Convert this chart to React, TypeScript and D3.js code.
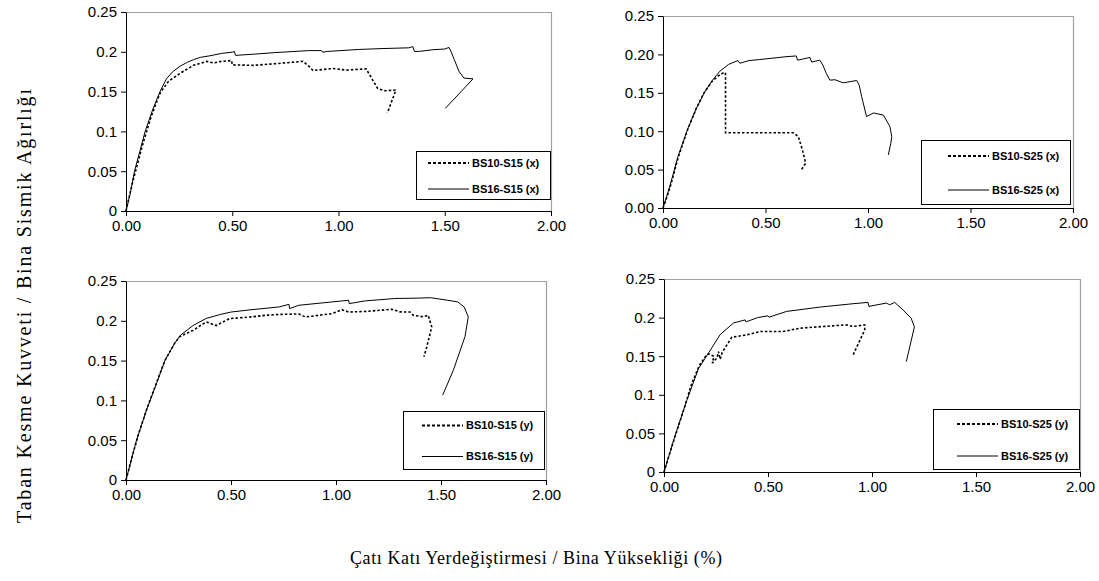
import { useEffect, useRef } from 'react';
import * as d3 from 'd3';

type Pt = [number, number];

const W = 1099;
const H = 581;

const xTicks = [0, 0.5, 1, 1.5, 2];
const yTicks = [0, 0.05, 0.1, 0.15, 0.2, 0.25];

const xTitle = 'Çatı Katı Yerdeğiştirmesi / Bina Yüksekliği (%)';
const yTitle = 'Taban Kesme Kuvveti / Bina Sismik Ağırlığı';

// top-left: S15, x direction
const bs10S15x: Pt[] = [
  [0, 0], [0.01, 0.012], [0.03, 0.035], [0.05, 0.055], [0.08, 0.085], [0.12, 0.12], [0.16, 0.148],
  [0.2, 0.163], [0.255, 0.173], [0.317, 0.183], [0.38, 0.188], [0.41, 0.186], [0.45, 0.188],
  [0.497, 0.189], [0.5, 0.1836], [0.6, 0.183], [0.7, 0.185], [0.833, 0.188], [0.86, 0.182],
  [0.88, 0.1765], [0.973, 0.179], [1.036, 0.177], [1.13, 0.1786], [1.16, 0.165], [1.184, 0.154],
  [1.22, 0.151], [1.27, 0.152], [1.23, 0.123],
];
const bs16S15x: Pt[] = [
  [0, 0], [0.02, 0.022], [0.04, 0.05], [0.065, 0.075], [0.09, 0.1], [0.125, 0.127], [0.16, 0.15],
  [0.19, 0.166], [0.22, 0.175], [0.255, 0.182], [0.29, 0.187], [0.317, 0.19], [0.35, 0.193],
  [0.395, 0.195], [0.45, 0.198], [0.5, 0.1995], [0.51, 0.2005], [0.515, 0.1955], [0.6, 0.197],
  [0.7, 0.199], [0.86, 0.2015], [0.92, 0.2015], [0.925, 0.1995], [0.95, 0.2005], [1.1, 0.203],
  [1.2, 0.204], [1.33, 0.205], [1.35, 0.2065], [1.357, 0.2005], [1.38, 0.2005], [1.44, 0.2025],
  [1.5, 0.2035], [1.52, 0.2055], [1.53, 0.2], [1.545, 0.19], [1.568, 0.175], [1.59, 0.167],
  [1.633, 0.166], [1.503, 0.129],
];

// top-right: S25, x direction
const bs10S25x: Pt[] = [
  [0, 0], [0.02, 0.015], [0.04, 0.032], [0.073, 0.065], [0.12, 0.102], [0.163, 0.13], [0.2, 0.15],
  [0.24, 0.165], [0.27, 0.172], [0.3, 0.177], [0.305, 0.175], [0.305, 0.098], [0.5, 0.098],
  [0.635, 0.098], [0.66, 0.093], [0.68, 0.0757], [0.692, 0.0627], [0.695, 0.058], [0.676, 0.05],
];
const bs16S25x: Pt[] = [
  [0, 0], [0.033, 0.028], [0.073, 0.067], [0.122, 0.104], [0.163, 0.13], [0.2036, 0.151],
  [0.24, 0.166], [0.277, 0.178], [0.32, 0.187], [0.366, 0.192], [0.375, 0.1885], [0.42, 0.192],
  [0.472, 0.1933], [0.6, 0.197], [0.65, 0.198], [0.656, 0.1925], [0.717, 0.196], [0.725, 0.19],
  [0.765, 0.1925], [0.78, 0.186], [0.797, 0.175], [0.814, 0.1665], [0.839, 0.167], [0.879, 0.163],
  [0.945, 0.166], [0.957, 0.16], [0.969, 0.145], [0.993, 0.119], [1.026, 0.1237], [1.075, 0.121],
  [1.107, 0.106], [1.116, 0.093], [1.111, 0.084], [1.099, 0.069],
];

// bottom-left: S15, y direction
const bs10S15y: Pt[] = [
  [0, 0], [0.03, 0.03], [0.06, 0.058], [0.1, 0.09], [0.145, 0.122], [0.185, 0.15], [0.232, 0.172],
  [0.2555, 0.18], [0.319, 0.188], [0.382, 0.1986], [0.429, 0.194], [0.492, 0.2027], [0.6, 0.205],
  [0.666, 0.207], [0.729, 0.208], [0.823, 0.2086], [0.855, 0.2048], [0.92, 0.207], [0.981, 0.209],
  [1.028, 0.214], [1.06, 0.211], [1.155, 0.212], [1.265, 0.2145], [1.305, 0.2112], [1.352, 0.211],
  [1.368, 0.207], [1.415, 0.205], [1.439, 0.2069], [1.456, 0.1924], [1.432, 0.167], [1.419, 0.155],
];
const bs16S15y: Pt[] = [
  [0, 0], [0.05, 0.05], [0.098, 0.088], [0.145, 0.121], [0.185, 0.15], [0.232, 0.172], [0.26, 0.182],
  [0.319, 0.194], [0.382, 0.203], [0.45, 0.208], [0.5, 0.211], [0.6, 0.214], [0.729, 0.2174],
  [0.776, 0.2207], [0.779, 0.2153], [0.823, 0.2195], [0.981, 0.2237], [1.06, 0.2258],
  [1.063, 0.2216], [1.139, 0.225], [1.28, 0.228], [1.39, 0.2285], [1.45, 0.229], [1.532, 0.2258],
  [1.58, 0.2237], [1.61, 0.2174], [1.63, 0.205], [1.614, 0.18], [1.559, 0.138], [1.508, 0.1066],
];

// bottom-right: S25, y direction
const bs10S25y: Pt[] = [
  [0, 0], [0.04, 0.035], [0.07, 0.06], [0.1, 0.085], [0.134, 0.115], [0.17, 0.138], [0.2, 0.15],
  [0.215, 0.153], [0.24, 0.15], [0.232, 0.141], [0.255, 0.148], [0.262, 0.156], [0.27, 0.146],
  [0.28, 0.155], [0.326, 0.1746], [0.398, 0.1776], [0.462, 0.182], [0.573, 0.182], [0.653, 0.1863],
  [0.877, 0.1906], [0.909, 0.1885], [0.965, 0.1906], [0.965, 0.184], [0.909, 0.1516],
];
const bs16S25y: Pt[] = [
  [0, 0], [0.054, 0.0477], [0.11, 0.093], [0.166, 0.134], [0.214, 0.154], [0.27, 0.178],
  [0.334, 0.193], [0.39, 0.197], [0.395, 0.1945], [0.45, 0.2], [0.5, 0.2023], [0.505, 0.2005],
  [0.589, 0.208], [0.749, 0.2136], [0.909, 0.218], [0.981, 0.2197], [0.985, 0.2145],
  [1.069, 0.2188], [1.085, 0.2166], [1.109, 0.2197], [1.149, 0.21], [1.188, 0.1993],
  [1.204, 0.188], [1.165, 0.143],
];

const panels = [
  {
    plot: { l: 126, r: 551, t: 12, b: 211 }, fixed: false,
    legend: { l: 416, r: 550, t: 151, b: 199 },
    series: [bs10S15x, bs16S15x], names: ['BS10-S15 (x)', 'BS16-S15 (x)'],
  },
  {
    plot: { l: 663, r: 1073, t: 16, b: 208 }, fixed: true,
    legend: { l: 921, r: 1070, t: 140, b: 204 },
    series: [bs10S25x, bs16S25x], names: ['BS10-S25 (x)', 'BS16-S25 (x)'],
  },
  {
    plot: { l: 126, r: 546, t: 281, b: 480 }, fixed: false,
    legend: { l: 403, r: 544, t: 411, b: 469 },
    series: [bs10S15y, bs16S15y], names: ['BS10-S15 (y)', 'BS16-S15 (y)'],
  },
  {
    plot: { l: 664, r: 1080, t: 279, b: 472 }, fixed: false,
    legend: { l: 933, r: 1079, t: 409, b: 469 },
    series: [bs10S25y, bs16S25y], names: ['BS10-S25 (y)', 'BS16-S25 (y)'],
  },
];

const sans = '"Liberation Sans", Arial, sans-serif';
const serif = '"Liberation Serif", "Times New Roman", serif';

const App = () => {
  const svgRef = useRef<SVGSVGElement>(null);

  useEffect(() => {
    const svg = d3.select(svgRef.current);
    svg.selectAll('*').remove();
    svg.append('rect').attr('width', W).attr('height', H).attr('fill', '#fff');

    panels.forEach(p => {
      const x = d3.scaleLinear().domain([0, 2]).range([p.plot.l, p.plot.r]);
      const y = d3.scaleLinear().domain([0, 0.25]).range([p.plot.b, p.plot.t]);
      const g = svg.append('g');

      // gray frame on top and right
      g.append('path')
        .attr('d', `M${p.plot.l},${p.plot.t + 0.5}H${p.plot.r + 0.5}V${p.plot.b}`)
        .attr('fill', 'none')
        .attr('stroke', '#a0a0a0')
        .attr('stroke-width', 1.2);

      const yFmt = p.fixed ? d3.format('.2f') : (d: number) => String(+d.toFixed(2));

      const ya = g.append('g')
        .attr('transform', `translate(${p.plot.l},0)`)
        .call(d3.axisLeft(y).tickValues(yTicks).tickSize(5).tickSizeOuter(0).tickPadding(4).tickFormat(yFmt as any));
      const xa = g.append('g')
        .attr('transform', `translate(0,${p.plot.b})`)
        .call(d3.axisBottom(x).tickValues(xTicks).tickSize(5).tickSizeOuter(0).tickPadding(4).tickFormat(d3.format('.2f') as any));
      [ya, xa].forEach(a => {
        a.selectAll('text').style('font-family', sans).style('font-size', '15px').attr('fill', '#000');
        a.selectAll('line,path').attr('stroke', '#000');
      });

      const line = d3.line<Pt>().x(d => x(d[0])).y(d => y(d[1]));

      g.append('path')
        .datum(p.series[0])
        .attr('d', line)
        .attr('fill', 'none')
        .attr('stroke', '#000')
        .attr('stroke-width', 1.6)
        .attr('stroke-dasharray', '2.5,2');

      g.append('path')
        .datum(p.series[1])
        .attr('d', line)
        .attr('fill', 'none')
        .attr('stroke', '#000')
        .attr('stroke-width', 1)
        .attr('stroke-linejoin', 'round');

      // legend
      const lg = p.legend;
      g.append('rect')
        .attr('x', lg.l + 0.5).attr('y', lg.t + 0.5)
        .attr('width', lg.r - lg.l).attr('height', lg.b - lg.t)
        .attr('fill', '#fff').attr('stroke', '#000');
      const rowH = (lg.b - lg.t) / 2;
      p.names.forEach((name, i) => {
        const cy = lg.t + rowH * (i + 0.5) + (i === 0 ? 0 : 2);
        const tx = lg.r - 78;
        g.append('line')
          .attr('x1', tx - 44).attr('x2', tx - 3)
          .attr('y1', cy).attr('y2', cy)
          .attr('stroke', '#000')
          .attr('stroke-width', i === 0 ? 1.8 : 1)
          .attr('stroke-dasharray', i === 0 ? '3,2' : null);
        g.append('text')
          .attr('x', tx).attr('y', cy).attr('dy', '0.35em')
          .style('font-family', sans).style('font-size', '11px').style('font-weight', 'bold')
          .text(name);
      });
    });

    svg.append('text')
      .attr('x', 536).attr('y', 564)
      .attr('text-anchor', 'middle')
      .attr('textLength', 372).attr('lengthAdjust', 'spacing')
      .style('font-family', serif).style('font-size', '18px').style('font-weight', 'normal')
      .text(xTitle);

    svg.append('text')
      .attr('transform', 'translate(31,306) rotate(-90)')
      .attr('text-anchor', 'middle')
      .attr('textLength', 434).attr('lengthAdjust', 'spacing')
      .style('font-family', serif).style('font-size', '20px').style('font-weight', 'normal')
      .text(yTitle);
  }, []);

  return (
    <svg ref={svgRef} width={W} height={H} style={{ position: 'absolute', left: 0, top: 0, display: 'block' }} />
  );
};

export default App;
